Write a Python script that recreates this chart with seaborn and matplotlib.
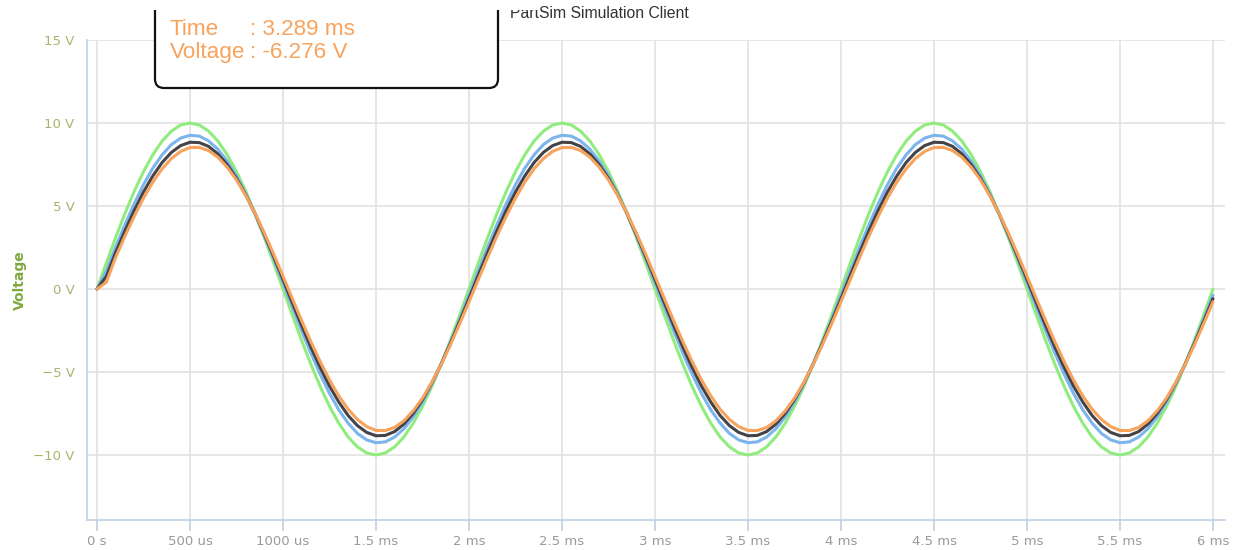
import numpy as np
import pandas as pd
import matplotlib
matplotlib.use("Agg")
import matplotlib.pyplot as plt
from matplotlib.patches import FancyBboxPatch, Rectangle
import seaborn as sns

# ---------------- data ----------------
time_ms = np.round(np.arange(121) * 0.05, 2)

green = [
    0.00,
    1.56, 3.09, 4.54, 5.88, 7.07, 8.09, 8.91, 9.51, 9.88, 10.00, 9.88, 9.51, 8.91, 8.09, 7.07, 5.88, 4.54, 3.09, 1.56, 0.00,
    -1.56, -3.09, -4.54, -5.88, -7.07, -8.09, -8.91, -9.51, -9.88, -10.00, -9.88, -9.51, -8.91, -8.09, -7.07, -5.88, -4.54, -3.09, -1.56, 0.00,
    1.56, 3.09, 4.54, 5.88, 7.07, 8.09, 8.91, 9.51, 9.88, 10.00, 9.88, 9.51, 8.91, 8.09, 7.07, 5.88, 4.54, 3.09, 1.56, 0.00,
    -1.56, -3.09, -4.54, -5.88, -7.07, -8.09, -8.91, -9.51, -9.88, -10.00, -9.88, -9.51, -8.91, -8.09, -7.07, -5.88, -4.54, -3.09, -1.56, 0.00,
    1.56, 3.09, 4.54, 5.88, 7.07, 8.09, 8.91, 9.51, 9.88, 10.00, 9.88, 9.51, 8.91, 8.09, 7.07, 5.88, 4.54, 3.09, 1.56, 0.00,
    -1.56, -3.09, -4.54, -5.88, -7.07, -8.09, -8.91, -9.51, -9.88, -10.00, -9.88, -9.51, -8.91, -8.09, -7.07, -5.88, -4.54, -3.09, -1.56, 0.00,
]

blue = [
    0.00,
    1.08, 2.51, 3.87, 5.14, 6.29, 7.28, 8.08, 8.70, 9.09, 9.26, 9.21, 8.92, 8.42, 7.71, 6.81, 5.74, 4.53, 3.21, 1.82, 0.37,
    -1.08, -2.51, -3.87, -5.14, -6.29, -7.28, -8.08, -8.70, -9.09, -9.26, -9.21, -8.92, -8.42, -7.71, -6.81, -5.74, -4.53, -3.21, -1.82, -0.37,
    1.08, 2.51, 3.87, 5.14, 6.29, 7.28, 8.08, 8.70, 9.09, 9.26, 9.21, 8.92, 8.42, 7.71, 6.81, 5.74, 4.53, 3.21, 1.82, 0.37,
    -1.08, -2.51, -3.87, -5.14, -6.29, -7.28, -8.08, -8.70, -9.09, -9.26, -9.21, -8.92, -8.42, -7.71, -6.81, -5.74, -4.53, -3.21, -1.82, -0.37,
    1.08, 2.51, 3.87, 5.14, 6.29, 7.28, 8.08, 8.70, 9.09, 9.26, 9.21, 8.92, 8.42, 7.71, 6.81, 5.74, 4.53, 3.21, 1.82, 0.37,
    -1.08, -2.51, -3.87, -5.14, -6.29, -7.28, -8.08, -8.70, -9.09, -9.26, -9.21, -8.92, -8.42, -7.71, -6.81, -5.74, -4.53, -3.21, -1.82, -0.37,
]

black = [
    0.00,
    0.75, 2.19, 3.50, 4.73, 5.85, 6.81, 7.62, 8.23, 8.64, 8.84, 8.82, 8.59, 8.14, 7.49, 6.66, 5.66, 4.53, 3.28, 1.95, 0.58,
    -0.82, -2.19, -3.50, -4.73, -5.85, -6.81, -7.62, -8.23, -8.64, -8.84, -8.82, -8.59, -8.14, -7.49, -6.66, -5.66, -4.53, -3.28, -1.95, -0.58,
    0.82, 2.19, 3.50, 4.73, 5.85, 6.81, 7.62, 8.23, 8.64, 8.84, 8.82, 8.59, 8.14, 7.49, 6.66, 5.66, 4.53, 3.28, 1.95, 0.58,
    -0.82, -2.19, -3.50, -4.73, -5.85, -6.81, -7.62, -8.23, -8.64, -8.84, -8.82, -8.59, -8.14, -7.49, -6.66, -5.66, -4.53, -3.28, -1.95, -0.58,
    0.82, 2.19, 3.50, 4.73, 5.85, 6.81, 7.62, 8.23, 8.64, 8.84, 8.82, 8.59, 8.14, 7.49, 6.66, 5.66, 4.53, 3.28, 1.95, 0.58,
    -0.82, -2.19, -3.50, -4.73, -5.85, -6.81, -7.62, -8.23, -8.64, -8.84, -8.82, -8.59, -8.14, -7.49, -6.66, -5.66, -4.53, -3.28, -1.95, -0.58,
]

orange = [
    0.00,
    0.40, 1.90, 3.18, 4.38, 5.48, 6.44, 7.24, 7.86, 8.29, 8.52, 8.53, 8.34, 7.94, 7.34, 6.57, 5.63, 4.55, 3.36, 2.09, 0.77,
    -0.57, -1.90, -3.18, -4.38, -5.48, -6.44, -7.24, -7.86, -8.29, -8.52, -8.53, -8.34, -7.94, -7.34, -6.57, -5.63, -4.55, -3.36, -2.09, -0.77,
    0.57, 1.90, 3.18, 4.38, 5.48, 6.44, 7.24, 7.86, 8.29, 8.52, 8.53, 8.34, 7.94, 7.34, 6.57, 5.63, 4.55, 3.36, 2.09, 0.77,
    -0.57, -1.90, -3.18, -4.38, -5.48, -6.44, -7.24, -7.86, -8.29, -8.52, -8.53, -8.34, -7.94, -7.34, -6.57, -5.63, -4.55, -3.36, -2.09, -0.77,
    0.57, 1.90, 3.18, 4.38, 5.48, 6.44, 7.24, 7.86, 8.29, 8.52, 8.53, 8.34, 7.94, 7.34, 6.57, 5.63, 4.55, 3.36, 2.09, 0.77,
    -0.57, -1.90, -3.18, -4.38, -5.48, -6.44, -7.24, -7.86, -8.29, -8.52, -8.53, -8.34, -7.94, -7.34, -6.57, -5.63, -4.55, -3.36, -2.09, -0.77,
]

series_names = ["green", "blue", "black", "orange"]
series_colors = {"green": "#90ed7d", "blue": "#7cb5ec", "black": "#434348", "orange": "#f7a35c"}

x_ticks = [0, 0.5, 1, 1.5, 2, 2.5, 3, 3.5, 4, 4.5, 5, 5.5, 6]
x_tick_labels = ["0 s", "500 us", "1000 us", "1.5 ms", "2 ms", "2.5 ms", "3 ms",
                 "3.5 ms", "4 ms", "4.5 ms", "5 ms", "5.5 ms", "6 ms"]
y_ticks = [-10, -5, 0, 5, 10, 15]
y_tick_labels = ["\u221210 V", "\u22125 V", "0 V", "5 V", "10 V", "15 V"]

title_text = "PartSim Simulation Client"
tooltip_keys = ["Time", "Voltage"]
tooltip_vals = [": 3.289 ms", ": -6.276 V"]

# ---------------- build frame ----------------
df = pd.concat([
    pd.DataFrame({"time": time_ms, "voltage": vals, "series": name})
    for name, vals in zip(series_names, [green, blue, black, orange])
], ignore_index=True)

# ---------------- figure ----------------
sns.set_style("white")
plt.rcParams["font.family"] = ["DejaVu Sans"]

W, H = 1235, 550
fig = plt.figure(figsize=(W / 100, H / 100), dpi=100)
ax = fig.add_axes([87 / W, 30 / H, (1225 - 87) / W, 480 / H])

sns.lineplot(data=df, x="time", y="voltage", hue="series", hue_order=series_names,
             palette=series_colors, linewidth=2.2, legend=False, sort=False,
             estimator=None, ax=ax, zorder=3)
for ln in ax.get_lines():
    ln.set_solid_joinstyle("round")
    ln.set_solid_capstyle("round")

ax.set_xlim(-10 / 186, 6 + 12 / 186)
ax.set_ylim(-10 - 65 / 16.6, 15)
ax.set_xticks(x_ticks)
ax.set_xticklabels(x_tick_labels)
ax.set_yticks(y_ticks)
ax.set_yticklabels(y_tick_labels)
ax.set_xlabel("")
ax.set_ylabel("Voltage", color="#7fa83f", fontsize=10, fontweight="bold")
ax.yaxis.set_label_coords((27 - 87) / 1138, (520 - 280) / 480)

ax.grid(True, color="#e2e2e2", linewidth=1.2, zorder=0)
ax.set_axisbelow(True)
for s in ["top", "right"]:
    ax.spines[s].set_visible(False)
for s in ["left", "bottom"]:
    ax.spines[s].set_color("#c0d0e0")
    ax.spines[s].set_linewidth(1.2)

ax.tick_params(axis="x", which="both", length=8, width=1.2, color="#c0d0e0",
               labelcolor="#9a9a9a", labelsize=9.5, pad=3, direction="out", bottom=True)
ax.tick_params(axis="y", length=0, labelcolor="#a5b56e", labelsize=9.5, pad=9)

# title (its top is cut off in the reference)
fig.text(510 / W, 1 - 18.5 / H, title_text, fontsize=11.3, color="#333333",
         family=["Liberation Sans"], ha="left", va="baseline", zorder=9)

# tooltip box
box = FancyBboxPatch((1.55, (H - 88) / 100), 3.43, 1.2,
                     boxstyle="round,pad=0,rounding_size=0.09",
                     transform=fig.dpi_scale_trans, facecolor="white",
                     edgecolor="#111111", linewidth=1.6, zorder=10)
fig.add_artist(box)
for i, (k, v) in enumerate(zip(tooltip_keys, tooltip_vals)):
    yb = 1 - (35 + i * 23) / H
    fig.text(170 / W, yb, k, fontsize=16.2, color="#f7a35c", family=["Liberation Sans"],
             ha="left", va="baseline", zorder=11)
    fig.text(250 / W, yb, v, fontsize=16.2, color="#f7a35c", family=["Liberation Sans"],
             ha="left", va="baseline", zorder=11)

# white band at the very top that hides the upper part of the title and box
band = Rectangle((1.40, (H - 10) / 100), 4.0, 0.2, transform=fig.dpi_scale_trans,
                 facecolor="white", edgecolor="none", zorder=20)
fig.add_artist(band)

fig.savefig("out.png", dpi=100)
